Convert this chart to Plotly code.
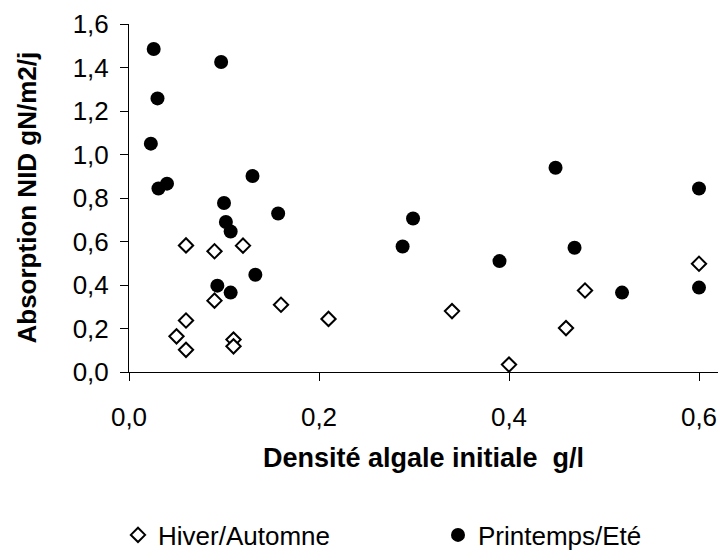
import plotly.graph_objects as go

# Data
hiver_x = [0.060, 0.090, 0.120, 0.090, 0.060, 0.050, 0.060, 0.110, 0.110,
           0.160, 0.210, 0.340, 0.400, 0.460, 0.480, 0.600]
hiver_y = [0.582, 0.555, 0.581, 0.328, 0.237, 0.164, 0.102, 0.149, 0.118,
           0.309, 0.244, 0.280, 0.034, 0.202, 0.375, 0.498]

printemps_x = [0.026, 0.097, 0.030, 0.023, 0.031, 0.040, 0.130, 0.100, 0.157,
               0.102, 0.107, 0.133, 0.093, 0.107, 0.299, 0.288, 0.390, 0.449,
               0.469, 0.519, 0.600, 0.600]
printemps_y = [1.485, 1.425, 1.258, 1.050, 0.844, 0.866, 0.901, 0.777, 0.729,
               0.690, 0.646, 0.447, 0.397, 0.365, 0.706, 0.577, 0.510, 0.939,
               0.571, 0.365, 0.844, 0.388]

x_title = "Densité algale initiale\u00a0\u00a0g/l"
y_title = "Absorption NID gN/m2/j"
series_names = ["Hiver/Automne", "Printemps/Eté"]

FONT = "Liberation Sans, Arial, sans-serif"

fig = go.Figure()
fig.add_trace(go.Scatter(
    x=hiver_x, y=hiver_y, mode="markers", name=series_names[0],
    legendwidth=280,
    marker=dict(symbol="diamond", size=11, color="white",
                line=dict(color="black", width=2)),
))
fig.add_trace(go.Scatter(
    x=printemps_x, y=printemps_y, mode="markers", name=series_names[1],
    legendwidth=175,
    marker=dict(symbol="circle", size=14, color="black",
                line=dict(color="black", width=0)),
))

fig.update_layout(
    width=720, height=551,
    paper_bgcolor="white", plot_bgcolor="white",
    margin=dict(l=129, r=2, t=24, b=179, autoexpand=False),
    separators=", ",
    font=dict(family=FONT, size=26, color="black"),
    showlegend=True,
    legend=dict(
        orientation="h", xref="container", yref="container",
        x=118 / 720, xanchor="left", y=1 - 535 / 551, yanchor="middle",
        font=dict(family=FONT, size=26, color="black"),
        entrywidthmode="pixels",
        bgcolor="rgba(0,0,0,0)", borderwidth=0,
    ),
    xaxis=dict(
        range=[0, 0.62], tickmode="array", tickvals=[0, 0.2, 0.4, 0.6],
        tickformat=".1f", showgrid=False, zeroline=False, automargin=False,
        showline=True, linecolor="black", linewidth=1,
        ticks="outside", ticklen=8, tickcolor="black", tickwidth=1,
        ticklabelstandoff=14,
        tickfont=dict(family=FONT, size=26, color="black"),
    ),
    yaxis=dict(
        range=[0, 1.6], tickmode="linear", tick0=0, dtick=0.2,
        tickformat=".1f", showgrid=False, zeroline=False, automargin=False,
        showline=True, linecolor="black", linewidth=1,
        ticks="outside", ticklen=8, tickcolor="black", tickwidth=1,
        ticklabelstandoff=6,
        tickfont=dict(family=FONT, size=26, color="black"),
    ),
    annotations=[
        dict(text="<b>" + x_title + "</b>", xref="paper", yref="paper",
             x=0.5, y=0, yshift=-86, xanchor="center", yanchor="middle",
             showarrow=False, font=dict(family=FONT, size=27, color="black")),
        dict(text="<b>" + y_title + "</b>", xref="paper", yref="paper",
             x=0, y=0.5, xshift=-102.5, xanchor="center", yanchor="middle",
             textangle=-90, showarrow=False,
             font=dict(family=FONT, size=26, color="black")),
    ],
)

fig.data[1].legendwidth = 170
fig.data[0].legendwidth = 275

# remove the default 8px page margin so the figure sits at the window origin
fig.write_html("out.html",
               config={"displayModeBar": False},
               post_script="document.body.style.margin='0';")
